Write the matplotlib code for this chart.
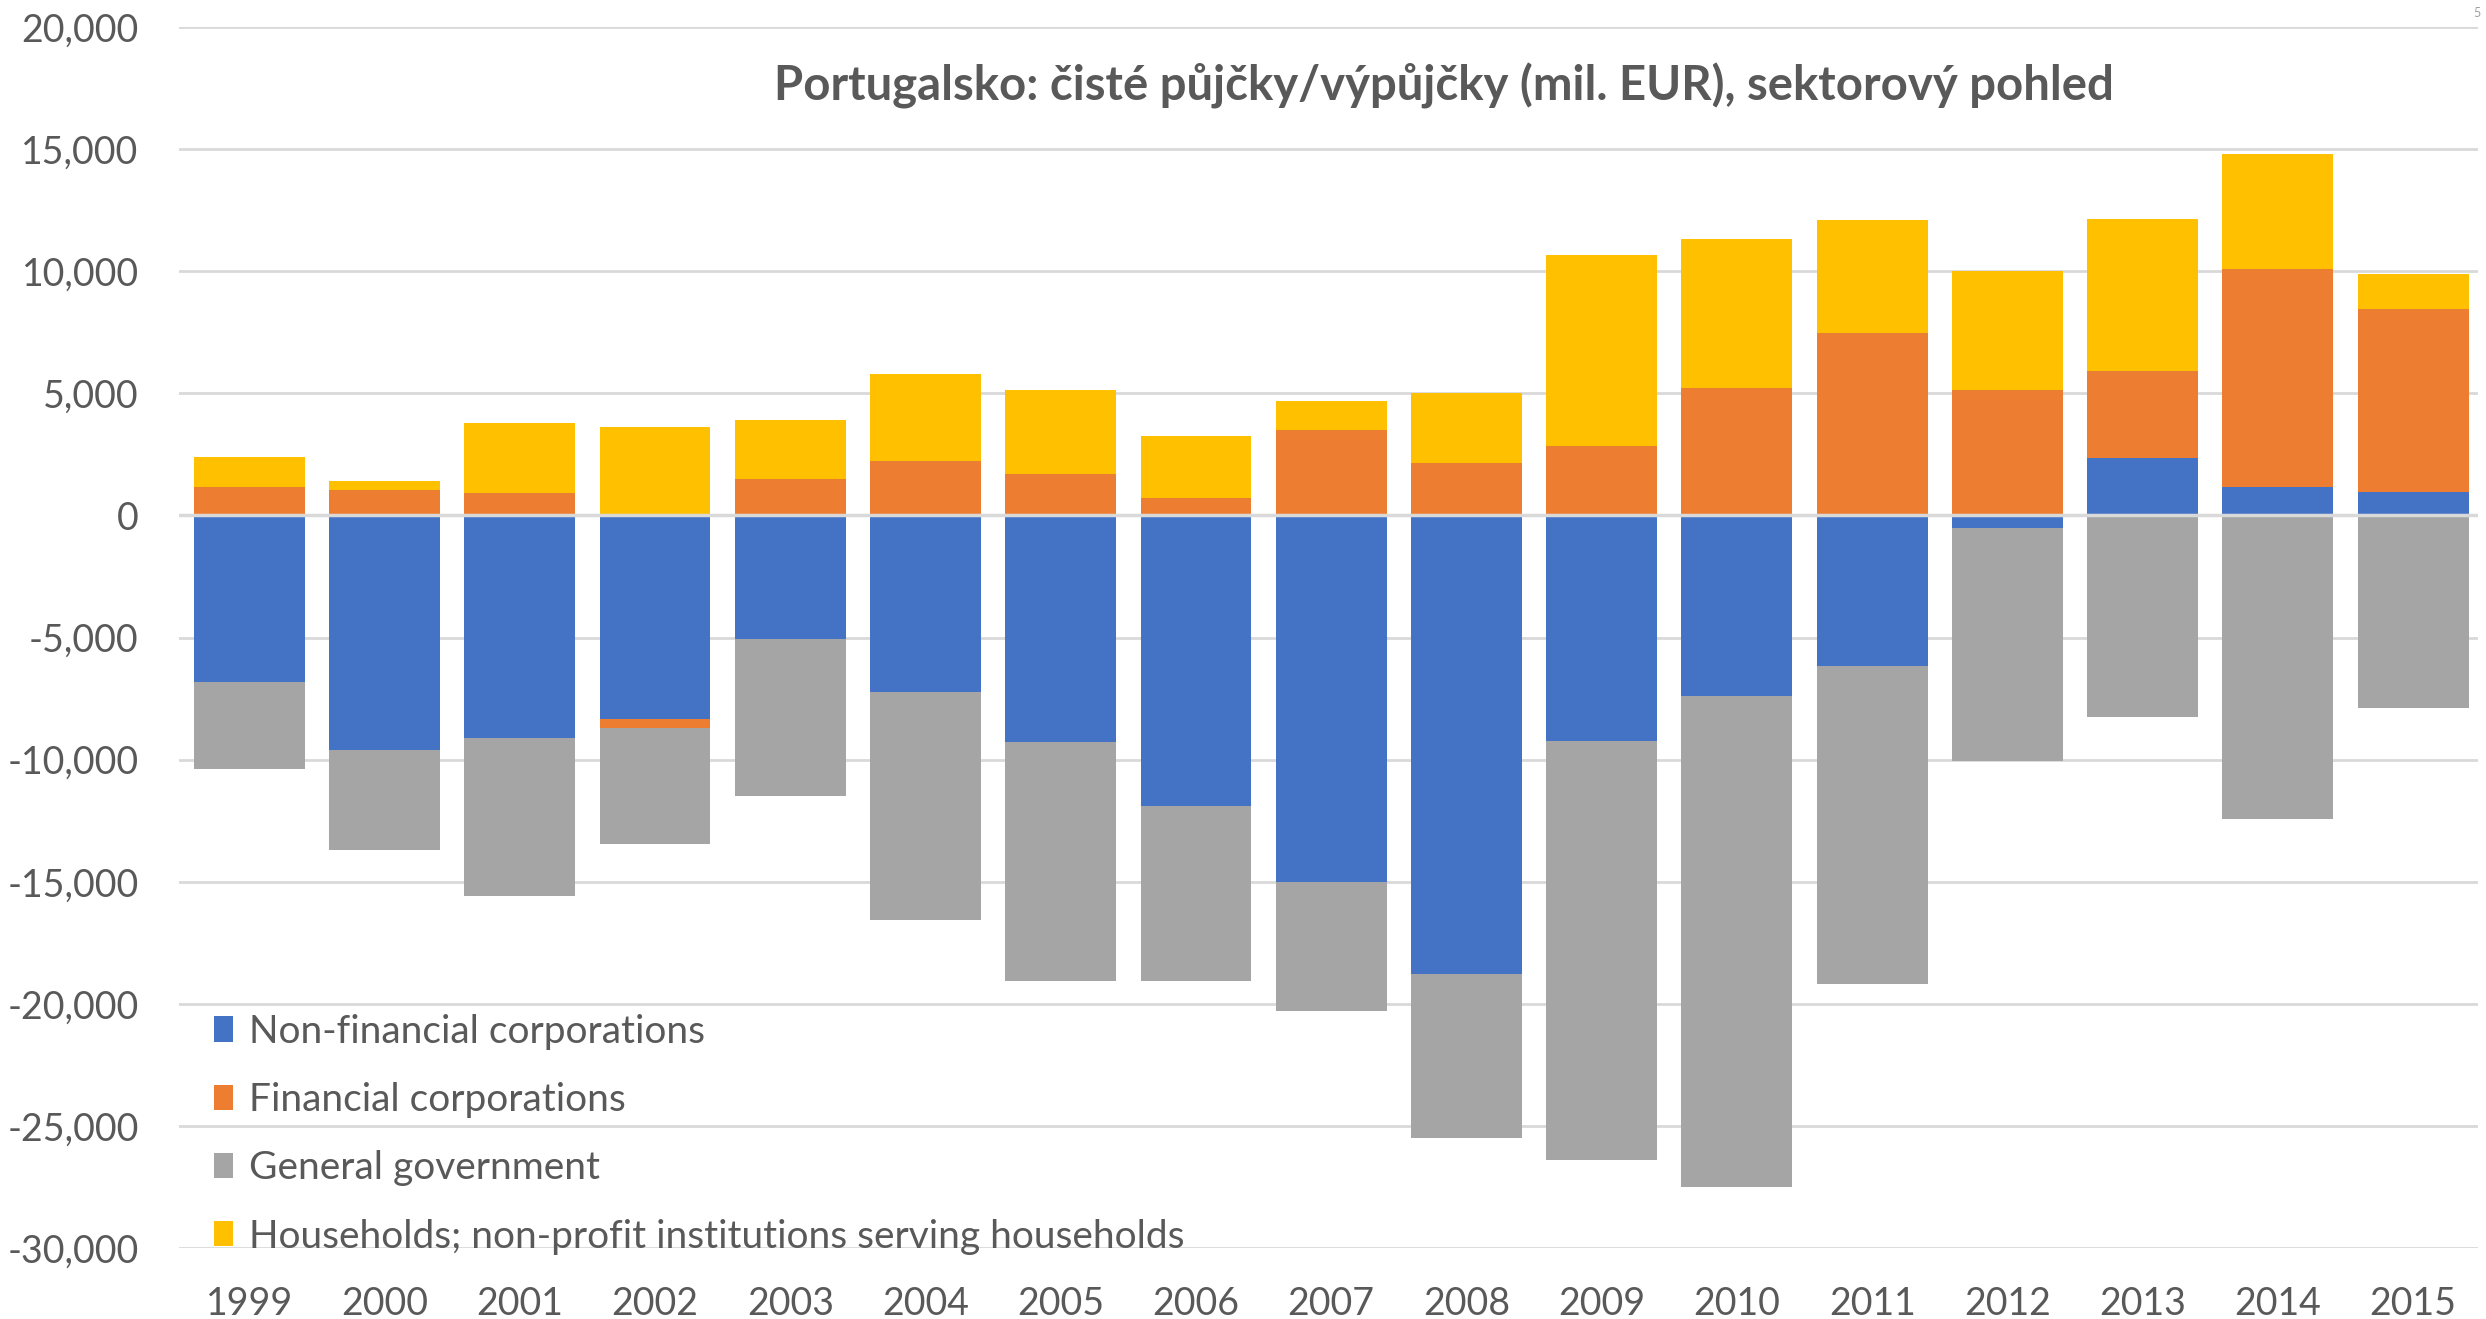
import matplotlib
matplotlib.use("Agg")
import matplotlib.pyplot as plt
import numpy as np
from matplotlib.patches import Patch

plt.rcParams['font.family'] = ['Lato', 'DejaVu Sans']

# data (mil. EUR)
years = ['1999', '2000', '2001', '2002', '2003', '2004', '2005', '2006', '2007',
         '2008', '2009', '2010', '2011', '2012', '2013', '2014', '2015']
non_financial = [-6820, -9610, -9100, -8320, -5070, -7215, -9295, -11895, -15015,
                 -18785, -9230, -7410, -6175, -520, 2340, 1170, 975]
financial = [1170, 1040, 910, -390, 1495, 2210, 1690, 715, 3510,
             2145, 2860, 5200, 7475, 5135, 3575, 8905, 7475]
government = [-3575, -4095, -6500, -4745, -6435, -9360, -9750, -7150, -5265,
              -6695, -17160, -20085, -13000, -9555, -8255, -12415, -7865]
households = [1235, 390, 2860, 3640, 2405, 3575, 3445, 2535, 1170,
              2860, 7800, 6110, 4615, 4875, 6240, 4745, 1430]

series_names = ['Non-financial corporations', 'Financial corporations',
                'General government', 'Households; non-profit institutions serving households']
series_vals = [non_financial, financial, government, households]
colors = ['#4472C4', '#ED7D31', '#A5A5A5', '#FFC000']

title = 'Portugalsko: čisté půjčky/výpůjčky (mil. EUR), sektorový pohled'
text_gray = '#595959'

fig = plt.figure(figsize=(24.86, 13.19), dpi=100)
ax = fig.add_axes([0.072, 0.0538, 0.9248, 0.9257])

# excel style stacking: positives go up from 0, negatives go down from 0
x = np.arange(len(years))
pos_base = np.zeros(len(years))
neg_base = np.zeros(len(years))
for vals, col in zip(series_vals, colors):
    v = np.array(vals, dtype=float)
    bottom = np.where(v >= 0, pos_base, neg_base)
    ax.bar(x, v, width=0.82, bottom=bottom, color=col, zorder=3)
    pos_base = pos_base + np.where(v >= 0, v, 0)
    neg_base = neg_base + np.where(v < 0, v, 0)

ax.set_ylim(-30000, 20000)
ax.set_xlim(-0.52, 16.48)
ax.set_yticks(np.arange(-30000, 20001, 5000))
ax.yaxis.set_major_formatter(matplotlib.ticker.FuncFormatter(lambda v, p: f'{int(v):,}'))
ax.set_xticks(x)
ax.set_xticklabels(years)
ax.grid(axis='y', color='#D9D9D9', linewidth=2, zorder=0)
ax.axhline(0, color='#D9D9D9', linewidth=2.5, zorder=4)
for s in ax.spines.values():
    s.set_visible(False)
ax.tick_params(axis='both', length=0, labelsize=27, labelcolor=text_gray)
ax.tick_params(axis='y', pad=29)
ax.tick_params(axis='x', pad=27)

ax.text(0.55, 0.952, title, transform=ax.transAxes, ha='center', va='center',
        fontsize=34, fontweight='bold', color=text_gray)

handles = [Patch(facecolor=c, edgecolor='none') for c in colors]
ax.legend(handles, series_names, loc='lower left', bbox_to_anchor=(0.0, -0.034),
          frameon=False, fontsize=28, labelcolor=text_gray,
          handlelength=0.5, handleheight=0.62, handletextpad=0.4, labelspacing=0.83)

fig.text(0.998, 0.995, '5', ha='right', va='top', fontsize=9, color='#A0A0A0')

fig.savefig('out.png', dpi=100)
